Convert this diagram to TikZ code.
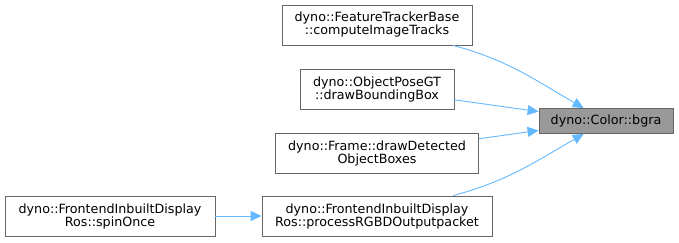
\documentclass[tikz,border=0pt]{standalone}
\usepackage{fontspec}
\setmainfont{DejaVu Sans}
\usetikzlibrary{arrows.meta}
\definecolor{edgeblue}{HTML}{63B8FF}
\definecolor{boxgray}{HTML}{666666}
\definecolor{selgray}{HTML}{999999}
\tikzset{
fnbox/.style={
	  draw=boxgray, fill=white, align=center, inner sep=0pt,
	    line width=0.8pt, minimum height=40pt,
    font=\fontsize{12.7}{13}\selectfont},
selbox/.style={fnbox, fill=selgray, minimum height=25pt},
calls/.style={draw=edgeblue, line width=0.9pt,
	  -{Triangle[length=11pt,width=10pt]}}
}

\begin{document}
\begin{tikzpicture}[x=1pt, y=1pt]
	\useasboundingbox (0,0) rectangle (679,243);
	\node[selbox, minimum width=134pt] (bgra) at (606,122) {dyno::Color::bgra};
	\node[fnbox, minimum width=190pt] (tracks) at (377,218)
		{dyno::FeatureTrackerBase\\::computeImageTracks};
	\node[fnbox, minimum width=154pt] (bbox) at (377,154)
		{dyno::ObjectPoseGT\\::drawBoundingBox};
	\node[fnbox, minimum width=203pt] (boxes) at (377,90)
		{dyno::Frame::drawDetected\\ObjectBoxes};
	\node[fnbox, minimum width=230pt] (packet) at (377,27)
		{dyno::FrontendInbuiltDisplay\\Ros::processRGBDOutputpacket};
	\node[fnbox, minimum width=210pt] (spin) at (110,27)
		{dyno::FrontendInbuiltDisplay\\Ros::spinOnce};

	\draw[calls] (tracks) to[out=-15, in=150] (bgra);
	\draw[calls] (bbox) -- (bgra);
	\draw[calls] (boxes) -- (bgra);
	\draw[calls] (packet) to[out=15, in=-150] (bgra);
	\draw[calls] (spin) -- (packet);
\end{tikzpicture}
\end{document}
